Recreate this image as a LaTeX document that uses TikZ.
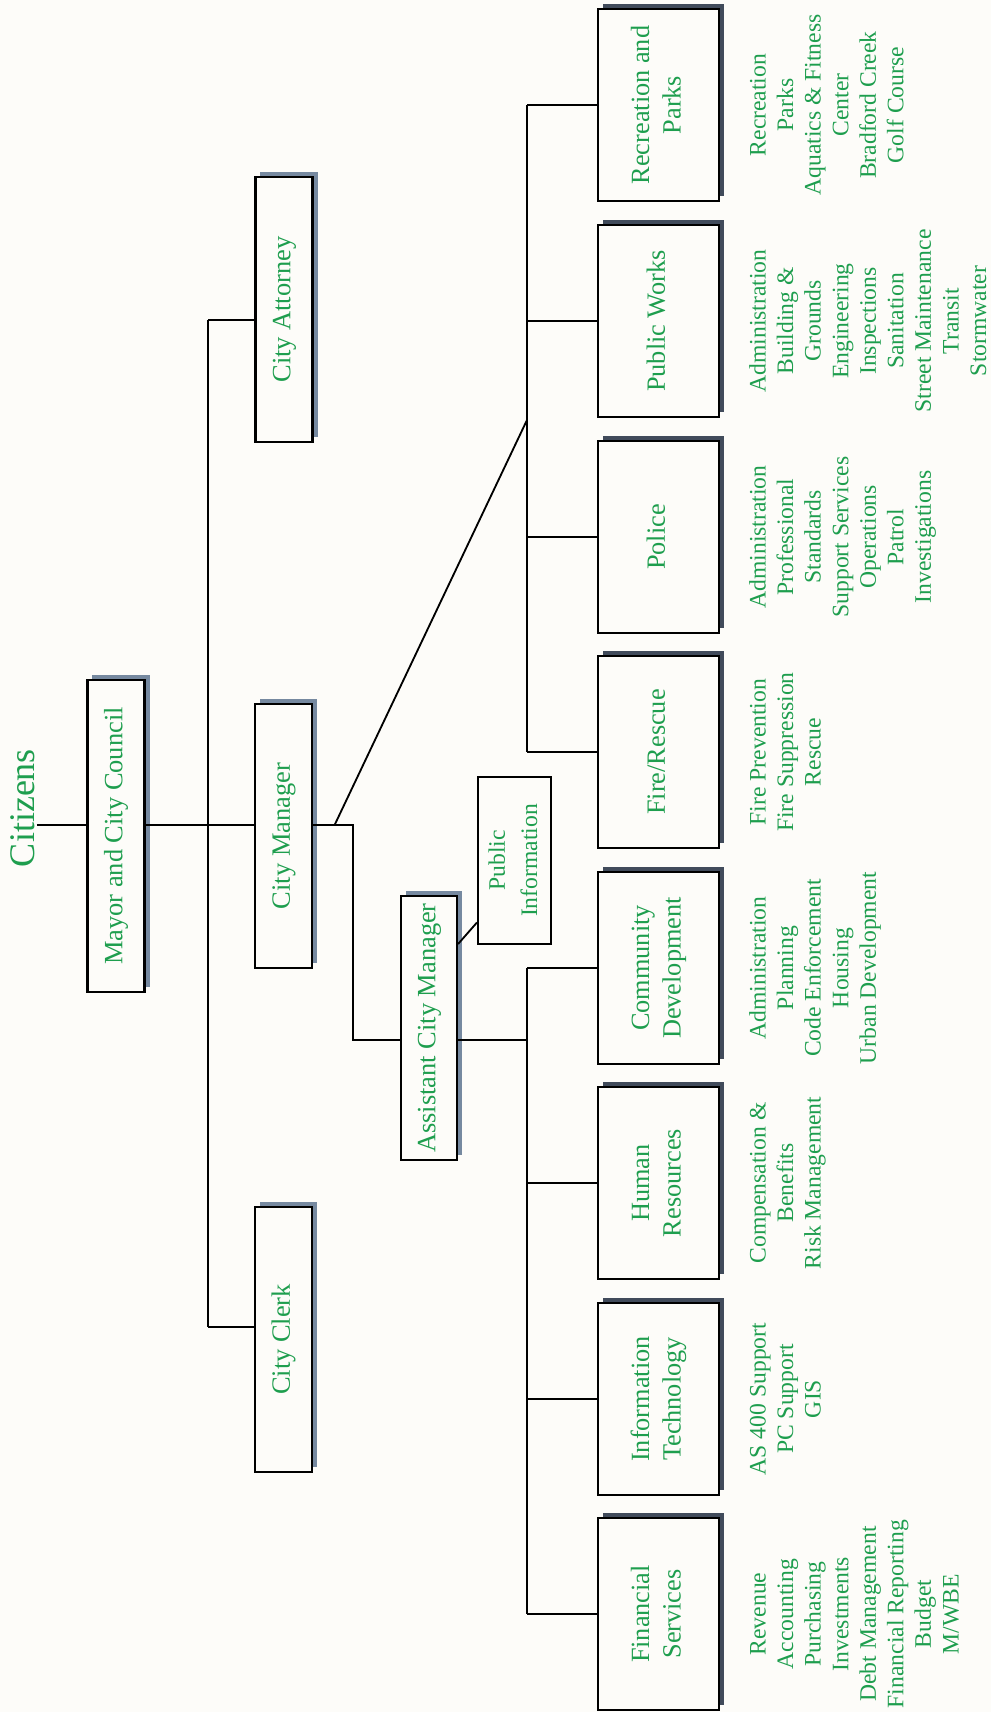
\documentclass[tikz,border=0pt]{standalone}
\usepackage{fontspec}
\setmainfont{Liberation Serif}
\usepackage{graphicx}
\usetikzlibrary{shadows}
\definecolor{bg}{HTML}{FDFCF9}
\definecolor{txt}{RGB}{30,158,78}
\definecolor{shdark}{HTML}{414B5B}
\definecolor{shlight}{HTML}{7689A0}
\newcommand{\vlab}[1]{\rotatebox{90}{\begin{tabular}{@{}c@{}}#1\end{tabular}}}
\begin{document}
\begin{tikzpicture}[x=0.025cm,y=-0.025cm,
  line/.style={line width=1.3pt, draw=black},
  box/.style={draw=black, line width=1.5pt, fill=bg, inner sep=0pt, text=txt},
  topbox/.style={box, font=\fontsize{18.8}{22.5}\selectfont,
    general shadow={shadow xshift=0.125cm, shadow yshift=0.125cm, fill=shlight}},
  dept/.style={box, font=\fontsize{18.7}{22.5}\selectfont,
    minimum width=3.025cm, minimum height=4.8cm,
    general shadow={shadow xshift=0.125cm, shadow yshift=0.125cm, fill=shdark}},
  items/.style={anchor=west, inner sep=0pt, text=txt, font=\fontsize{16.8}{19.6}\selectfont},
]
\fill[bg] (0,0) rectangle (991,1712);
\useasboundingbox (0,0) rectangle (991,1712);

% title
\node[inner sep=1pt, text=txt, font=\fontsize{25.6}{30}\selectfont] (cit) at (23,808) {\rotatebox{90}{Citizens}};

% top level
\node[topbox, minimum width=1.425cm, minimum height=7.8cm] (mayor) at (116,836) {\vlab{Mayor and City Council}};
\node[topbox, minimum width=1.425cm, minimum height=6.6cm] (cm) at (283.5,836) {\vlab{City Manager}};
\node[topbox, minimum width=1.425cm, minimum height=6.625cm] (att) at (284,309.5) {\vlab{City Attorney}};
\node[topbox, minimum width=1.425cm, minimum height=6.625cm] (clerk) at (283.5,1339.5) {\vlab{City Clerk}};
\node[topbox, minimum width=1.4cm, minimum height=6.6cm] (acm) at (429,1028) {\vlab{Assistant City Manager}};
\node[box, font=\fontsize{16.8}{23}\selectfont, minimum width=1.825cm, minimum height=4.175cm] (pi) at (514.5,860.5) {\vlab{Public\\Information}};

% departments
\node[dept] (rec)  at (658.5,105)  {\vlab{Recreation and\\Parks}};
\node[dept] (pw)   at (658.5,321)  {\vlab{Public Works}};
\node[dept] (pol)  at (658.5,537)  {\vlab{Police}};
\node[dept] (fire) at (658.5,752)  {\vlab{Fire/Rescue}};
\node[dept] (cd)   at (658.5,968)  {\vlab{Community\\Development}};
\node[dept] (hr)   at (658.5,1183) {\vlab{Human\\Resources}};
\node[dept] (it)   at (658.5,1399) {\vlab{Information\\Technology}};
\node[dept] (fs)   at (658.5,1614) {\vlab{Financial\\Services}};

% item lists
\node[items] (recI)  at (746,105)  {\vlab{Recreation\\Parks\\Aquatics \& Fitness\\Center\\Bradford Creek\\Golf Course}};
\node[items] (pwI)   at (746,321)  {\vlab{Administration\\Building \&\\Grounds\\Engineering\\Inspections\\Sanitation\\Street Maintenance\\Transit\\Stormwater}};
\node[items] (polI)  at (746,537)  {\vlab{Administration\\Professional\\Standards\\Support Services\\Operations\\Patrol\\Investigations}};
\node[items] (fireI) at (746,752)  {\vlab{Fire Prevention\\Fire Suppression\\Rescue}};
\node[items] (cdI)   at (746,968)  {\vlab{Administration\\Planning\\Code Enforcement\\Housing\\Urban Development}};
\node[items] (hrI)   at (746,1183) {\vlab{Compensation \&\\Benefits\\Risk Management}};
\node[items] (itI)   at (746,1399) {\vlab{AS 400 Support\\PC Support\\GIS}};
\node[items] (fsI)   at (746,1614) {\vlab{Revenue\\Accounting\\Purchasing\\Investments\\Debt Management\\Financial Reporting\\Budget\\M/WBE}};

% helper coordinates
\coordinate (lvl) at (0,825);
\coordinate (acmlvl) at (0,1040);
\coordinate (spineT) at (208,320);
\coordinate (spineB) at (208,1327);
\coordinate (stepA) at (353,825);
\coordinate (stepB) at (353,1040);
\coordinate (diag0) at (334.6,825);
\coordinate (rbus) at (527,420);
\coordinate (busx) at (527,0);
\coordinate (pil) at (0,922.5);
\coordinate (acmpi) at (0,944);

% connectors
\draw[line] (cit.east |- lvl) -- (mayor.west |- lvl);
\draw[line] (mayor.east |- lvl) -- (cm.west |- lvl);
\draw[line] (spineT) -- (spineB);
\draw[line] (spineT) -- (att.west |- spineT);
\draw[line] (spineB) -- (clerk.west |- spineB);
\draw[line] (cm.east |- lvl) -- (stepA) -- (stepB) -- (acm.west |- acmlvl);
\draw[line] (diag0) -- (rbus);
\draw[line] (busx |- rec.west) -- (busx |- fire.west);
\foreach \d in {rec,pw,pol,fire} \draw[line] (busx |- \d.west) -- (\d.west);
\draw[line] (acm.east |- acmlvl) -- (busx |- acmlvl);
\draw[line] (busx |- cd.west) -- (busx |- fs.west);
\foreach \d in {cd,hr,it,fs} \draw[line] (busx |- \d.west) -- (\d.west);
\draw[line] (pi.west |- pil) -- (acm.east |- acmpi);
\end{tikzpicture}
\end{document}
